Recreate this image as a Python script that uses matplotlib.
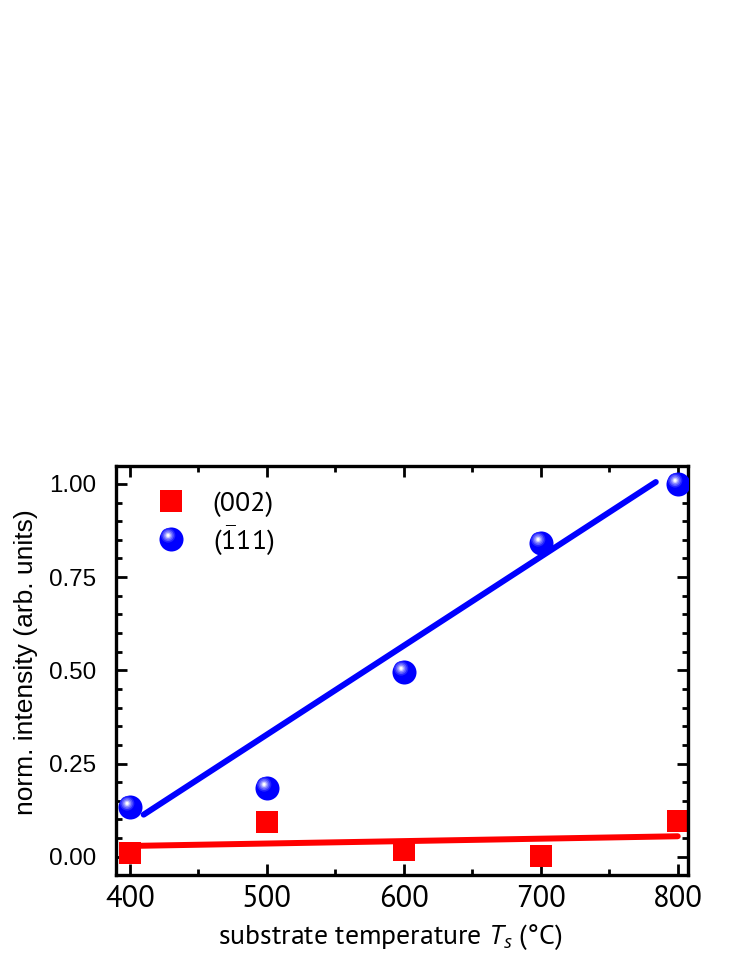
import numpy as np
import matplotlib
matplotlib.use("Agg")
import matplotlib.pyplot as plt
from matplotlib.path import Path
from matplotlib.lines import Line2D
from matplotlib.legend_handler import HandlerTuple
from matplotlib.ticker import MultipleLocator, FormatStrFormatter
from matplotlib import font_manager

# dados
temps = [400, 500, 600, 700, 800]
int_002 = [0.011, 0.094, 0.019, 0.002, 0.097]
int_111 = [0.134, 0.185, 0.496, 0.842, 1.0]
# extremos das retas de ajuste
fit_x_002 = [400, 800]
fit_y_002 = [0.029, 0.055]
fit_x_111 = [410, 784]
fit_y_111 = [0.113, 1.005]
rotulos = ["(002)", r"($\bar{1}$11)"]

AZUL = "#0000ff"
VERMELHO = "#ff0000"

# fonte parecida com a Myriad do original (eixo x e legenda), só arquivos estáticos
estaticas = set(f.name for f in font_manager.fontManager.ttflist
                if "[" not in f.fname and f.weight in (400, "normal", "regular") and f.style == "normal")
fam_x = "DejaVu Sans"
for nome in ["PT Sans", "Source Sans 3", "Source Sans Pro", "Fira Sans", "Open Sans"]:
    if nome in estaticas:
        fam_x = nome
        break

plt.rcParams["font.family"] = ["Liberation Sans", "DejaVu Sans"]
plt.rcParams["mathtext.fontset"] = "custom"
plt.rcParams["mathtext.rm"] = fam_x
plt.rcParams["mathtext.it"] = fam_x + ":italic"
plt.rcParams["mathtext.bf"] = fam_x + ":bold"


# camada da esfera: círculo deslocado dentro do marcador (os MOVETO fixam a escala)
def camada(cx, cy, r):
    c = Path.circle((cx, cy), r)
    verts = np.vstack([[[-1, -1], [1, 1]], c.vertices])
    codes = np.concatenate([[Path.MOVETO, Path.MOVETO], c.codes])
    return Path(verts, codes)


def mistura(cor, t):
    c = np.array(matplotlib.colors.to_rgb(cor))
    return tuple(c + (1 - c) * t)


camadas = [(camada(0, 0, 1.0), AZUL)]
for r, t in [(0.60, 0.15), (0.47, 0.35), (0.34, 0.55), (0.22, 0.8), (0.12, 1.0)]:
    camadas.append((camada(-0.28, 0.34, r), mistura(AZUL, t)))

fig = plt.figure(figsize=(7.47, 9.67), dpi=100)
ax = fig.add_axes([0.1553, 0.0951, 0.7657, 0.423])

ax.plot(fit_x_002, fit_y_002, color=VERMELHO, lw=4.3, solid_capstyle="round", zorder=3)
ax.plot(fit_x_111, fit_y_111, color=AZUL, lw=4.3, solid_capstyle="round", zorder=3)

ax.plot(temps, int_002, ls="none", marker="s", ms=15.8, mew=0, color=VERMELHO, zorder=2)
h_esfera = []
for k, (m, cor) in enumerate(camadas):
    ax.plot(temps, int_111, ls="none", marker=m, ms=17.3, mew=0, color=cor, zorder=4 + k * 0.01)
    h_esfera.append(Line2D([], [], ls="none", marker=m, ms=17.3, mew=0, color=cor))
h_quad = Line2D([], [], ls="none", marker="s", ms=15.8, mew=0, color=VERMELHO)

ax.set_xlim(389.8, 807.5)
ax.set_ylim(-0.049, 1.048)
ax.xaxis.set_major_locator(MultipleLocator(100))
ax.xaxis.set_minor_locator(MultipleLocator(50))
ax.yaxis.set_major_locator(MultipleLocator(0.25))
ax.yaxis.set_minor_locator(MultipleLocator(0.05))
ax.yaxis.set_major_formatter(FormatStrFormatter("%.2f"))

for s in ax.spines.values():
    s.set_linewidth(2.4)
ax.tick_params(which="both", direction="in", top=True, right=True, width=2.0)
ax.tick_params(which="major", length=8)
ax.tick_params(which="minor", length=4.5)
ax.tick_params(axis="y", labelsize=17.4, pad=14)
ax.tick_params(axis="x", pad=7)
for lb in ax.get_yticklabels():
    lb.set_family("Liberation Sans")
for lb in ax.get_xticklabels():
    lb.set_family(fam_x)
    lb.set_fontsize(22)

ax.set_xlabel("substrate temperature $T_s$ (°C)", family=fam_x, fontsize=20, labelpad=7, x=0.479)
ax.set_ylabel("norm. intensity (arb. units)", family="Liberation Sans", fontsize=19, labelpad=8, y=0.52)

leg = ax.legend([h_quad, tuple(h_esfera)], rotulos, loc="upper left", frameon=False,
                handler_map={tuple: HandlerTuple(ndivide=1, pad=0)},
                prop={"family": fam_x, "size": 20},
                handlelength=1.0, handletextpad=1.0, labelspacing=0.27,
                bbox_to_anchor=(0.0717, 0.938), borderaxespad=0, borderpad=0)

fig.savefig("out.png", dpi=100)
